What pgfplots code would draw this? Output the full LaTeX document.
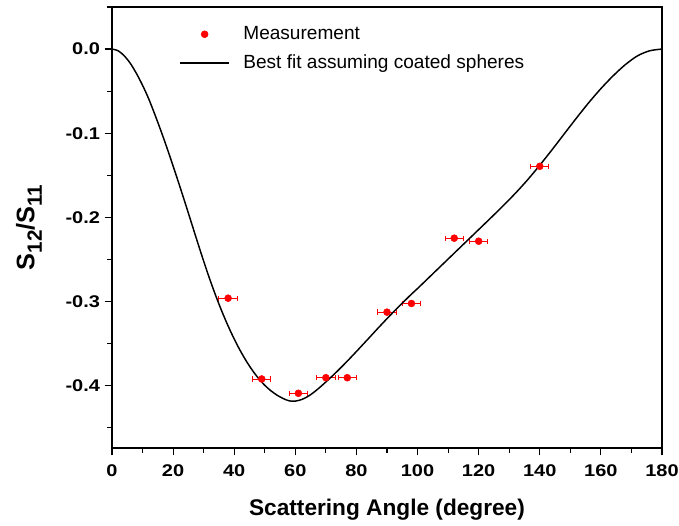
\documentclass[border=0pt]{standalone}
\usepackage{pgfplots}
\pgfplotsset{compat=1.18}
\usepackage{fontspec}
\setmainfont{Liberation Sans}
\usetikzlibrary{calc}
\newcommand\tl[1]{\scalebox{1.18}[1]{#1}}

\pgfplotsset{
  dotlegend/.style={legend image code/.code={\draw[##1] plot coordinates {(18.5pt,0pt)};}},
  linelegend/.style={legend image code/.code={\draw[##1] (0pt,0pt) -- (37pt,0pt);}},
}

\begin{document}
\begin{tikzpicture}
\begin{axis}[
  scale only axis,
  width=412.5pt, height=330.75pt,
  xmin=0, xmax=180, ymin=-0.474, ymax=0.05,
  axis line style={line width=1.1pt},
  tick align=outside,
  xtick pos=left, ytick pos=left,
  major tick length=5.5pt, minor tick length=3.5pt,
  tick style={line width=0.9pt, black},
  xtick={0,20,...,180},
  xticklabels={\tl{0},\tl{20},\tl{40},\tl{60},\tl{80},\tl{100},\tl{120},\tl{140},\tl{160},\tl{180}},
  minor xtick={10,30,...,170},
  ytick={0,-0.1,-0.2,-0.3,-0.4},
  yticklabels={\tl{0.0},\tl{-0.1},\tl{-0.2},\tl{-0.3},\tl{-0.4}},
  minor ytick={0.05,-0.05,-0.15,-0.25,-0.35,-0.45},
  ticklabel style={font=\fontsize{12.7}{15}\selectfont\bfseries},
  xticklabel style={yshift=-3.5pt},
  xlabel={Scattering Angle (degree)},
  ylabel={S\raisebox{-5.5pt}{\fontsize{15.5}{15.5}\selectfont 12}/S\raisebox{-5.5pt}{\fontsize{15.5}{15.5}\selectfont 11}},
  xlabel style={font=\fontsize{17}{20}\selectfont\bfseries, at={(axis description cs:0.5,-0.1406)}, anchor=center},
  ylabel style={font=\fontsize{19}{22}\selectfont\bfseries, at={(axis description cs:-0.151,0.5)}, anchor=center},
  legend style={draw=none, fill=none, at={(axis description cs:0.1145,0.968)}, anchor=north west,
    font=\fontsize{14.3}{17}\selectfont, row sep=6pt,
    /tikz/every odd column/.append style={column sep=8pt}},
  legend cell align=left,
]
\addplot[only marks, mark=*, mark size=2.6pt, red, dotlegend,
  error bars/.cd, x dir=both, x explicit,
  error bar style={line width=0.7pt, draw=red},
  error mark options={rotate=90, mark size=2pt, line width=0.7pt, draw=red}]
coordinates {
  (38,-0.296) +- (3,0)
  (49,-0.392) +- (3,0)
  (61,-0.409) +- (3,0)
  (70,-0.3905) +- (3,0)
  (77,-0.3905) +- (3,0)
  (90,-0.3126) +- (3,0)
  (98,-0.3023) +- (3,0)
  (112,-0.2247) +- (3,0)
  (120,-0.2283) +- (3,0)
  (140,-0.1393) +- (3,0)
};
\addlegendentry{Measurement}
\addplot[black, line width=1.1pt, smooth, linelegend]
coordinates {
  (0,0) (2,-0.002) (4,-0.008) (6,-0.017) (8,-0.029) (10,-0.043)
  (12,-0.059) (14,-0.0775) (16,-0.097) (18,-0.1175) (20,-0.139)
  (22,-0.161) (24,-0.1835) (26,-0.2065) (28,-0.2295) (30,-0.252)
  (32,-0.2735) (34,-0.2935) (36,-0.312) (38,-0.329) (40,-0.3445)
  (42,-0.3585) (44,-0.371) (46,-0.382) (48,-0.3915) (50,-0.3995)
  (52,-0.406) (54,-0.4112) (56,-0.4152) (58,-0.4180) (60,-0.4183)
  (62,-0.4165) (64,-0.413) (66,-0.408) (68,-0.402) (70,-0.3955)
  (72,-0.3888) (74,-0.3818) (76,-0.3745) (78,-0.367) (80,-0.3593)
  (82,-0.3515) (84,-0.3437) (86,-0.3358) (88,-0.328) (90,-0.3203)
  (92,-0.3128) (94,-0.3055) (96,-0.2983) (98,-0.2912) (100,-0.2845)
  (104,-0.2705) (108,-0.2565) (112,-0.2425) (116,-0.2285) (120,-0.2145)
  (124,-0.2005) (128,-0.1862) (132,-0.1714) (136,-0.1554) (140,-0.1380)
  (144,-0.1197) (148,-0.1008) (152,-0.082) (156,-0.0638) (160,-0.047)
  (164,-0.0318) (168,-0.0185) (172,-0.008) (176,-0.002) (180,0)
};
\addlegendentry{Best fit assuming coated spheres}
\end{axis}
\pgfresetboundingbox
\path[use as bounding box] ($(current axis.south west)+(-84pt,-58.5pt)$) rectangle ($(current axis.north east)+(12.75pt,5.25pt)$);
\end{tikzpicture}
\end{document}
